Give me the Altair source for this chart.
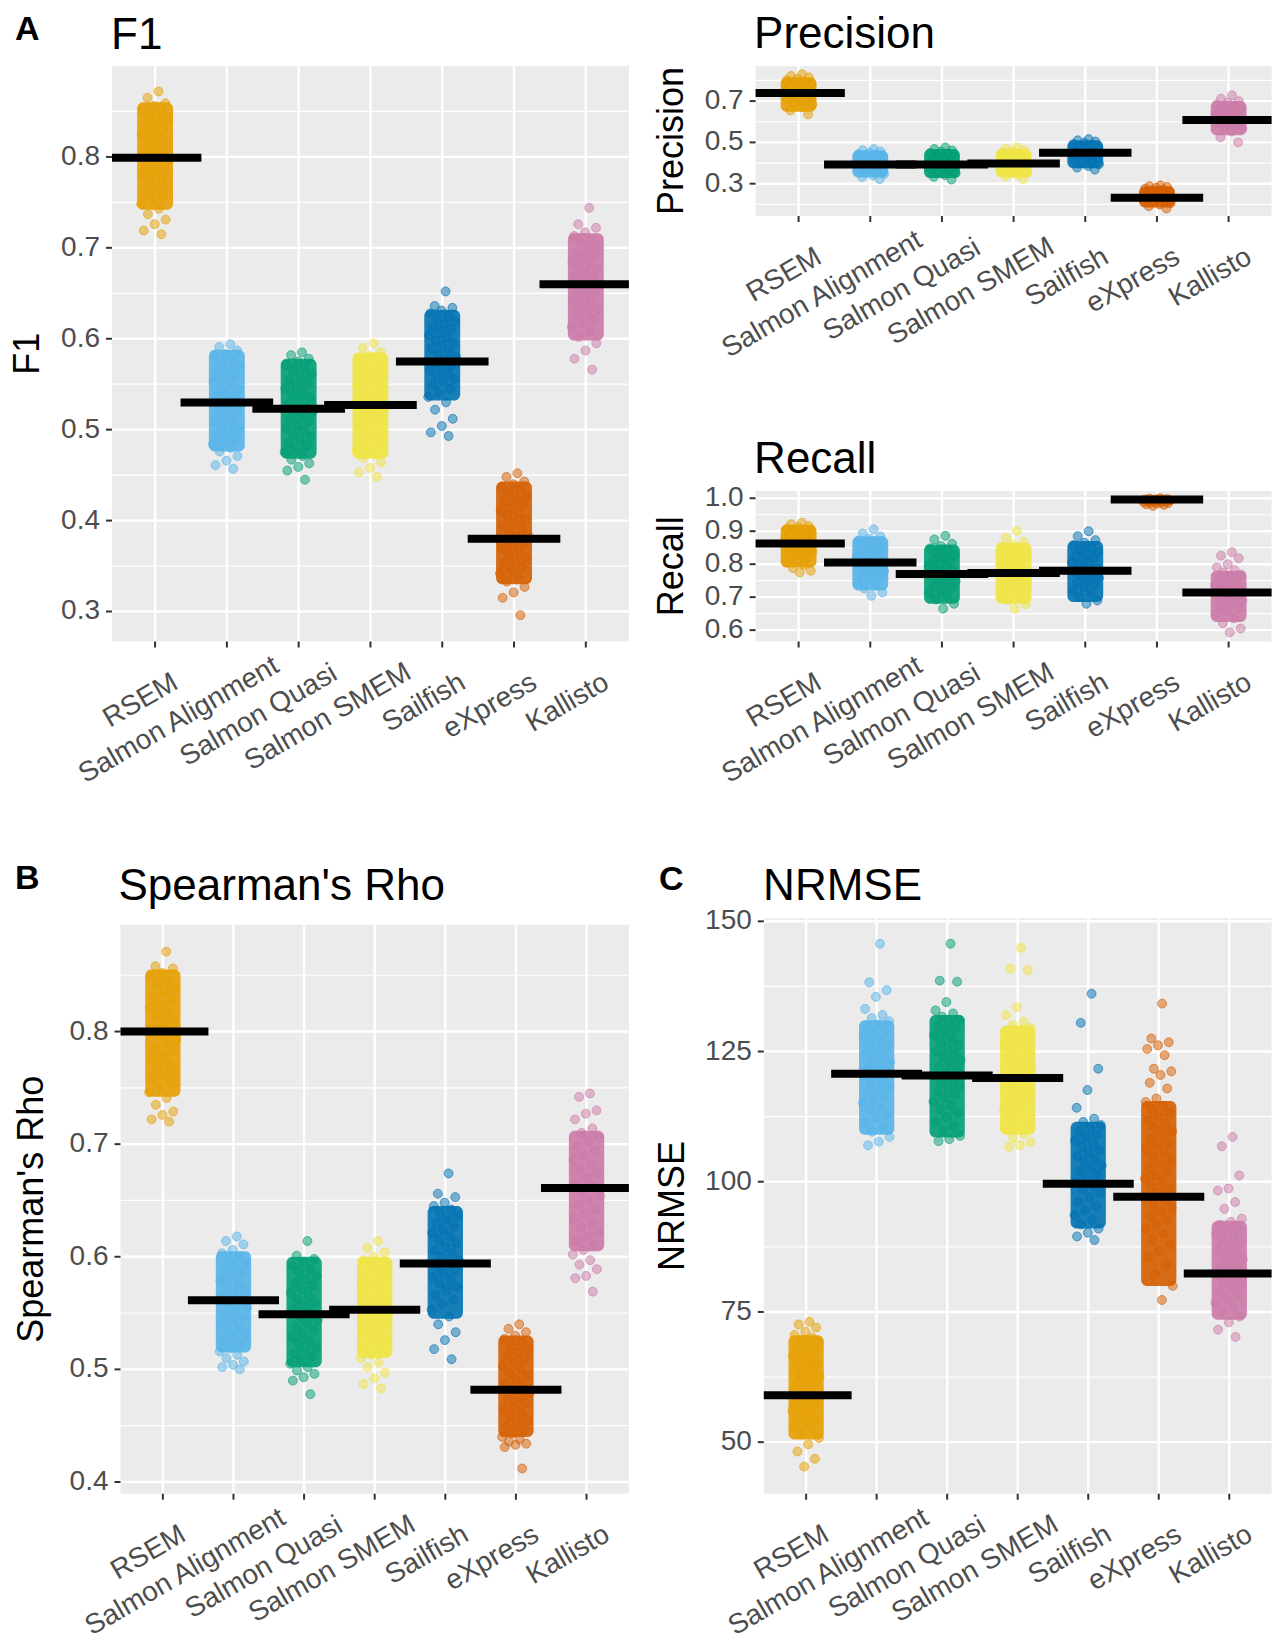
import altair as alt
import pandas as pd

METHODS = ["RSEM", "Salmon Alignment", "Salmon Quasi", "Salmon SMEM", "Sailfish", "eXpress", "Kallisto"]
COLORS = ["#E69F00", "#56B4E9", "#009E73", "#F0E442", "#0072B2", "#D55E00", "#CC79A7"]

# ---------------- F1 ----------------
F1_RSEM = [0.872, 0.865, 0.859, 0.856, 0.852, 0.849, 0.845, 0.842, 0.839, 0.835, 0.831, 0.828, 0.825, 0.821, 0.818, 0.814, 0.811, 0.807, 0.804, 0.801, 0.797, 0.794, 0.790, 0.787, 0.783, 0.780, 0.776, 0.773, 0.769, 0.765, 0.761, 0.757, 0.753, 0.748, 0.743, 0.737, 0.731, 0.726, 0.719, 0.715]
F1_SALN = [0.594, 0.591, 0.587, 0.583, 0.580, 0.577, 0.573, 0.570, 0.566, 0.563, 0.560, 0.556, 0.553, 0.550, 0.546, 0.543, 0.540, 0.537, 0.533, 0.530, 0.527, 0.524, 0.520, 0.517, 0.514, 0.510, 0.507, 0.504, 0.500, 0.497, 0.494, 0.490, 0.487, 0.484, 0.480, 0.476, 0.471, 0.466, 0.461, 0.457]
F1_SQUASI = [0.585, 0.582, 0.578, 0.575, 0.571, 0.568, 0.565, 0.561, 0.558, 0.555, 0.551, 0.548, 0.545, 0.541, 0.538, 0.535, 0.532, 0.528, 0.525, 0.522, 0.519, 0.515, 0.512, 0.509, 0.505, 0.502, 0.499, 0.495, 0.492, 0.489, 0.485, 0.482, 0.478, 0.475, 0.471, 0.467, 0.463, 0.459, 0.455, 0.445]
F1_SSMEM = [0.595, 0.590, 0.585, 0.581, 0.577, 0.574, 0.570, 0.567, 0.563, 0.560, 0.556, 0.553, 0.549, 0.546, 0.543, 0.539, 0.536, 0.533, 0.529, 0.526, 0.523, 0.519, 0.516, 0.512, 0.509, 0.506, 0.502, 0.499, 0.495, 0.492, 0.488, 0.485, 0.481, 0.477, 0.473, 0.469, 0.464, 0.458, 0.453, 0.448]
F1_SAIL = [0.652, 0.636, 0.634, 0.631, 0.628, 0.625, 0.622, 0.619, 0.616, 0.613, 0.610, 0.607, 0.604, 0.601, 0.598, 0.595, 0.592, 0.589, 0.586, 0.583, 0.580, 0.577, 0.574, 0.571, 0.568, 0.565, 0.562, 0.559, 0.556, 0.553, 0.549, 0.545, 0.541, 0.536, 0.530, 0.522, 0.512, 0.504, 0.497, 0.493]
F1_EXPR = [0.452, 0.448, 0.443, 0.440, 0.437, 0.434, 0.431, 0.427, 0.424, 0.421, 0.418, 0.414, 0.411, 0.408, 0.405, 0.401, 0.398, 0.395, 0.392, 0.388, 0.385, 0.382, 0.379, 0.375, 0.372, 0.369, 0.366, 0.362, 0.359, 0.356, 0.353, 0.349, 0.346, 0.342, 0.338, 0.333, 0.327, 0.321, 0.315, 0.296]
F1_KALL = [0.744, 0.726, 0.722, 0.717, 0.713, 0.709, 0.706, 0.702, 0.699, 0.695, 0.692, 0.689, 0.685, 0.682, 0.679, 0.675, 0.672, 0.669, 0.665, 0.662, 0.659, 0.655, 0.652, 0.649, 0.645, 0.642, 0.639, 0.635, 0.632, 0.628, 0.625, 0.621, 0.617, 0.613, 0.608, 0.602, 0.595, 0.587, 0.578, 0.566]
F1_MEANS = [0.799, 0.530, 0.523, 0.527, 0.575, 0.380, 0.660]
F1_CORE_LO = [0.742, 0.476, 0.468, 0.468, 0.532, 0.330, 0.598]
F1_CORE_HI = [0.860, 0.588, 0.578, 0.585, 0.632, 0.443, 0.716]
F1_TICKS = [0.3, 0.4, 0.5, 0.6, 0.7, 0.8]
F1_MINOR = [0.35, 0.45, 0.55, 0.65, 0.75, 0.85]
F1_DOMAIN = [0.267, 0.900]

# ---------------- Precision ----------------
PR_RSEM = [0.830, 0.822, 0.815, 0.808, 0.801, 0.795, 0.788, 0.781, 0.774, 0.767, 0.760, 0.753, 0.746, 0.739, 0.732, 0.725, 0.717, 0.709, 0.701, 0.692, 0.683, 0.672, 0.655, 0.636]
PR_SALN = [0.468, 0.462, 0.456, 0.450, 0.444, 0.438, 0.432, 0.426, 0.420, 0.414, 0.408, 0.402, 0.396, 0.390, 0.384, 0.378, 0.372, 0.366, 0.360, 0.354, 0.347, 0.340, 0.332, 0.322]
PR_SQUASI = [0.475, 0.468, 0.461, 0.455, 0.449, 0.443, 0.437, 0.431, 0.425, 0.419, 0.413, 0.407, 0.401, 0.395, 0.389, 0.383, 0.377, 0.371, 0.364, 0.357, 0.350, 0.342, 0.333, 0.320]
PR_SSMEM = [0.476, 0.469, 0.462, 0.456, 0.450, 0.444, 0.438, 0.432, 0.426, 0.420, 0.414, 0.408, 0.402, 0.396, 0.390, 0.384, 0.378, 0.372, 0.366, 0.359, 0.352, 0.344, 0.335, 0.322]
PR_SAIL = [0.516, 0.510, 0.504, 0.498, 0.492, 0.486, 0.480, 0.474, 0.468, 0.462, 0.456, 0.450, 0.444, 0.438, 0.432, 0.426, 0.420, 0.414, 0.408, 0.401, 0.394, 0.386, 0.378, 0.368]
PR_EXPR = [0.292, 0.288, 0.284, 0.280, 0.276, 0.271, 0.267, 0.263, 0.259, 0.255, 0.251, 0.247, 0.243, 0.239, 0.235, 0.231, 0.227, 0.222, 0.217, 0.212, 0.206, 0.199, 0.191, 0.180]
PR_KALL = [0.728, 0.712, 0.700, 0.692, 0.684, 0.677, 0.670, 0.663, 0.656, 0.649, 0.642, 0.635, 0.628, 0.621, 0.614, 0.607, 0.600, 0.592, 0.584, 0.575, 0.565, 0.553, 0.525, 0.500]
PR_MEANS = [0.739, 0.393, 0.393, 0.398, 0.450, 0.232, 0.608]
PR_CORE_LO = [0.648, 0.330, 0.327, 0.330, 0.375, 0.185, 0.535]
PR_CORE_HI = [0.815, 0.462, 0.468, 0.468, 0.510, 0.288, 0.700]
PR_TICKS = [0.3, 0.5, 0.7]
PR_MINOR = [0.2, 0.4, 0.6, 0.8]
PR_DOMAIN = [0.1435, 0.870]

# ---------------- Recall ----------------
RE_RSEM = [0.926, 0.921, 0.916, 0.912, 0.908, 0.904, 0.900, 0.896, 0.892, 0.888, 0.884, 0.880, 0.876, 0.872, 0.868, 0.864, 0.859, 0.854, 0.849, 0.844, 0.839, 0.833, 0.827, 0.821, 0.814, 0.806, 0.797, 0.788, 0.780, 0.775]
RE_SALN = [0.906, 0.893, 0.884, 0.877, 0.871, 0.865, 0.859, 0.853, 0.848, 0.842, 0.836, 0.831, 0.825, 0.819, 0.814, 0.808, 0.802, 0.797, 0.791, 0.785, 0.779, 0.773, 0.767, 0.760, 0.753, 0.745, 0.736, 0.726, 0.714, 0.704]
RE_SQUASI = [0.886, 0.875, 0.862, 0.855, 0.848, 0.841, 0.834, 0.827, 0.820, 0.814, 0.808, 0.802, 0.796, 0.790, 0.784, 0.778, 0.772, 0.766, 0.760, 0.754, 0.748, 0.742, 0.735, 0.728, 0.720, 0.712, 0.703, 0.693, 0.680, 0.665]
RE_SSMEM = [0.901, 0.880, 0.868, 0.860, 0.853, 0.846, 0.839, 0.832, 0.825, 0.819, 0.813, 0.807, 0.801, 0.795, 0.789, 0.783, 0.777, 0.771, 0.765, 0.759, 0.752, 0.745, 0.738, 0.730, 0.722, 0.713, 0.703, 0.692, 0.679, 0.665]
RE_SAIL = [0.900, 0.885, 0.873, 0.865, 0.858, 0.851, 0.844, 0.837, 0.830, 0.824, 0.818, 0.812, 0.806, 0.800, 0.794, 0.788, 0.782, 0.776, 0.770, 0.764, 0.758, 0.751, 0.744, 0.737, 0.729, 0.720, 0.711, 0.701, 0.690, 0.680]
RE_EXPR = [1.000, 0.999, 0.998, 0.997, 0.996, 0.995, 0.994, 0.993, 0.992, 0.991, 0.990, 0.989, 0.988, 0.987, 0.986, 0.985, 0.984, 0.982, 0.980, 0.977]
RE_KALL = [0.836, 0.826, 0.818, 0.800, 0.790, 0.782, 0.775, 0.768, 0.761, 0.755, 0.749, 0.743, 0.737, 0.731, 0.725, 0.719, 0.713, 0.707, 0.701, 0.695, 0.689, 0.682, 0.675, 0.667, 0.658, 0.648, 0.636, 0.621, 0.605, 0.593]
RE_MEANS = [0.863, 0.805, 0.770, 0.773, 0.780, 0.996, 0.714]
RE_CORE_LO = [0.790, 0.720, 0.680, 0.680, 0.685, 0.982, 0.625]
RE_CORE_HI = [0.920, 0.885, 0.860, 0.865, 0.870, 0.998, 0.780]
RE_TICKS = [0.6, 0.7, 0.8, 0.9, 1.0]
RE_MINOR = [0.65, 0.75, 0.85, 0.95]
RE_DOMAIN = [0.5655, 1.022]

# ---------------- Spearman's Rho ----------------
RH_RSEM = [0.871, 0.858, 0.856, 0.852, 0.849, 0.845, 0.842, 0.838, 0.835, 0.831, 0.828, 0.824, 0.821, 0.817, 0.814, 0.810, 0.807, 0.803, 0.800, 0.797, 0.793, 0.790, 0.786, 0.783, 0.779, 0.776, 0.772, 0.769, 0.765, 0.762, 0.758, 0.754, 0.750, 0.746, 0.741, 0.735, 0.729, 0.726, 0.722, 0.720]
RH_SALN = [0.618, 0.614, 0.611, 0.606, 0.603, 0.600, 0.597, 0.594, 0.591, 0.588, 0.585, 0.582, 0.579, 0.576, 0.573, 0.570, 0.567, 0.564, 0.561, 0.558, 0.555, 0.552, 0.549, 0.546, 0.543, 0.540, 0.537, 0.534, 0.531, 0.528, 0.525, 0.522, 0.519, 0.516, 0.513, 0.510, 0.507, 0.504, 0.502, 0.500]
RH_SQUASI = [0.614, 0.601, 0.598, 0.595, 0.592, 0.589, 0.586, 0.583, 0.580, 0.577, 0.574, 0.571, 0.568, 0.565, 0.562, 0.559, 0.556, 0.553, 0.550, 0.547, 0.544, 0.541, 0.538, 0.535, 0.532, 0.529, 0.526, 0.523, 0.520, 0.517, 0.514, 0.511, 0.508, 0.505, 0.502, 0.499, 0.496, 0.493, 0.490, 0.478]
RH_SSMEM = [0.614, 0.608, 0.604, 0.600, 0.597, 0.594, 0.591, 0.588, 0.585, 0.582, 0.579, 0.576, 0.573, 0.570, 0.567, 0.564, 0.561, 0.558, 0.555, 0.552, 0.549, 0.546, 0.543, 0.540, 0.537, 0.534, 0.531, 0.528, 0.525, 0.522, 0.519, 0.516, 0.513, 0.510, 0.506, 0.502, 0.497, 0.492, 0.487, 0.483]
RH_SAIL = [0.674, 0.656, 0.653, 0.648, 0.645, 0.642, 0.639, 0.636, 0.633, 0.630, 0.627, 0.624, 0.621, 0.618, 0.615, 0.612, 0.609, 0.606, 0.603, 0.600, 0.597, 0.594, 0.591, 0.588, 0.585, 0.582, 0.579, 0.576, 0.573, 0.570, 0.566, 0.562, 0.558, 0.553, 0.547, 0.540, 0.533, 0.526, 0.518, 0.509]
RH_EXPR = [0.540, 0.536, 0.533, 0.530, 0.527, 0.524, 0.521, 0.518, 0.515, 0.512, 0.509, 0.506, 0.503, 0.500, 0.497, 0.494, 0.491, 0.488, 0.485, 0.482, 0.479, 0.476, 0.473, 0.470, 0.467, 0.464, 0.461, 0.458, 0.455, 0.452, 0.449, 0.446, 0.443, 0.440, 0.438, 0.436, 0.434, 0.433, 0.431, 0.412]
RH_KALL = [0.745, 0.742, 0.730, 0.727, 0.722, 0.714, 0.710, 0.706, 0.702, 0.698, 0.694, 0.690, 0.686, 0.682, 0.678, 0.674, 0.670, 0.666, 0.662, 0.658, 0.654, 0.650, 0.646, 0.642, 0.638, 0.634, 0.630, 0.626, 0.622, 0.618, 0.614, 0.610, 0.606, 0.602, 0.597, 0.593, 0.589, 0.583, 0.581, 0.569]
RH_MEANS = [0.800, 0.5615, 0.549, 0.553, 0.594, 0.482, 0.661]
RH_CORE_LO = [0.742, 0.515, 0.502, 0.510, 0.545, 0.440, 0.605]
RH_CORE_HI = [0.855, 0.605, 0.600, 0.600, 0.645, 0.530, 0.712]
RH_TICKS = [0.4, 0.5, 0.6, 0.7, 0.8]
RH_MINOR = [0.45, 0.55, 0.65, 0.75, 0.85]
RH_DOMAIN = [0.3896, 0.8948]

# ---------------- NRMSE ----------------
NR_RSEM = [73.1, 72.6, 72.0, 71.2, 70.6, 70.1, 69.6, 69.1, 68.6, 68.1, 67.6, 67.1, 66.6, 66.1, 65.6, 65.1, 64.6, 64.1, 63.6, 63.1, 62.6, 62.1, 61.6, 61.1, 60.6, 60.1, 59.6, 59.1, 58.6, 58.1, 57.6, 57.1, 56.6, 56.1, 55.6, 55.1, 54.5, 53.9, 53.2, 52.5, 51.7, 50.8, 49.6, 48.2, 46.8, 45.3]
NR_SALN = [145.7, 138.3, 136.8, 135.5, 133.2, 132.0, 131.4, 130.8, 130.2, 129.6, 129.0, 128.4, 127.8, 127.2, 126.6, 126.0, 125.4, 124.8, 124.2, 123.6, 123.0, 122.4, 121.8, 121.2, 120.6, 120.0, 119.4, 118.8, 118.2, 117.6, 117.0, 116.4, 115.8, 115.1, 114.4, 113.7, 113.0, 112.2, 111.4, 110.5, 109.6, 108.6, 107.7, 107.0]
NR_SQUASI = [145.7, 138.6, 138.4, 134.5, 132.9, 132.3, 131.7, 131.1, 130.5, 129.9, 129.3, 128.7, 128.1, 127.5, 126.9, 126.3, 125.7, 125.1, 124.5, 123.9, 123.3, 122.7, 122.1, 121.5, 120.9, 120.3, 119.7, 119.1, 118.5, 117.9, 117.3, 116.7, 116.1, 115.4, 114.7, 114.0, 113.2, 112.4, 111.5, 110.6, 109.7, 108.8, 108.2, 107.8]
NR_SSMEM = [144.9, 140.9, 140.6, 133.5, 132.0, 130.7, 130.1, 129.5, 128.9, 128.3, 127.7, 127.1, 126.5, 125.9, 125.3, 124.7, 124.1, 123.5, 122.9, 122.3, 121.7, 121.1, 120.5, 119.9, 119.3, 118.7, 118.1, 117.5, 116.9, 116.3, 115.7, 115.1, 114.5, 113.8, 113.1, 112.4, 111.6, 110.8, 110.0, 109.2, 108.4, 107.6, 107.0, 106.7]
NR_SAIL = [136.1, 130.5, 121.7, 117.6, 114.2, 112.1, 111.5, 110.9, 110.3, 109.7, 109.1, 108.5, 107.9, 107.3, 106.7, 106.1, 105.5, 104.9, 104.3, 103.7, 103.1, 102.5, 101.9, 101.3, 100.6, 99.9, 99.2, 98.5, 97.8, 97.0, 96.2, 95.4, 94.5, 93.6, 92.7, 91.8, 91.0, 90.2, 89.5, 88.8]
NR_EXPR = [134.2, 127.5, 126.8, 126.2, 125.5, 124.3, 121.7, 121.2, 120.5, 119.0, 117.9, 116.0, 115.3, 114.6, 113.9, 113.2, 112.5, 111.8, 111.1, 110.4, 109.7, 109.0, 108.3, 107.6, 106.9, 106.2, 105.5, 104.8, 104.1, 103.4, 102.7, 102.0, 101.3, 100.6, 99.9, 99.2, 98.5, 97.8, 97.1, 96.4, 95.7, 95.0, 94.2, 93.4, 92.6, 91.8, 90.9, 90.0, 89.0, 88.0, 86.8, 85.5, 84.0, 82.2, 80.0, 77.3]
NR_KALL = [108.6, 106.8, 101.2, 98.7, 98.3, 96.1, 94.8, 92.9, 92.3, 91.7, 91.1, 90.5, 89.9, 89.3, 88.7, 88.1, 87.5, 86.9, 86.3, 85.7, 85.1, 84.5, 83.9, 83.3, 82.7, 82.1, 81.5, 80.9, 80.3, 79.7, 79.0, 78.3, 77.6, 76.8, 76.0, 75.1, 74.1, 73.0, 71.6, 70.2]
NR_MEANS = [59.0, 120.75, 120.4, 119.9, 99.6, 97.1, 82.4]
NR_CORE_LO = [50.5, 109.0, 108.5, 109.0, 91.0, 80.0, 73.5]
NR_CORE_HI = [70.5, 131.0, 132.0, 130.0, 111.5, 115.5, 92.5]
NR_TICKS = [50, 75, 100, 125, 150]
NR_MINOR = [62.5, 87.5, 112.5, 137.5]
NR_DOMAIN = [40.1, 150.6]

FONT = "Liberation Sans"
BG = "#EBEBEB"
TICK_COLOR = "#333333"
LABEL_COLOR = "#4D4D4D"
CSCALE = alt.Scale(domain=METHODS, range=COLORS)
ONE = pd.DataFrame({"k": [0]})


def label(t, x, y, size, weight="normal", angle=0, align="left", baseline="alphabetic"):
    return alt.Chart(pd.DataFrame({"t": [t]})).mark_text(
        align=align, baseline=baseline, font=FONT, fontSize=size, fontWeight=weight,
        angle=angle, color="black").encode(text="t:N", x=alt.value(x), y=alt.value(y))


def region(lists, means, core_lo, core_hi, dom, ticks, minor, fmt, x0, x1, y0, y1, ytitle, title_dx):
    step = (x1 - x0) / 7.2
    xs = alt.Scale(domain=[-0.6, 6.6], range=[x0, x1], nice=False, zero=False)
    ys = alt.Scale(domain=dom, range=[y1, y0], nice=False, zero=False)
    pts = pd.DataFrame([
        {"method": m, "idx": i, "value": v}
        for i, (m, vals) in enumerate(zip(METHODS, lists)) for v in vals
    ])
    mdf = pd.DataFrame({"method": METHODS, "idx": list(range(len(METHODS))), "mean": means,
                        "clo": core_lo, "chi": core_hi})
    tdf = pd.DataFrame({"v": ticks})

    bg = alt.Chart(ONE).mark_rect(color=BG).encode(
        x=alt.value(x0), x2=alt.value(x1), y=alt.value(y0), y2=alt.value(y1))
    minor_l = alt.Chart(pd.DataFrame({"v": minor})).mark_rule(color="white", strokeWidth=1.2).encode(
        y=alt.Y("v:Q", scale=ys, axis=None), x=alt.value(x0), x2=alt.value(x1))
    major_l = alt.Chart(tdf).mark_rule(color="white", strokeWidth=2.4).encode(
        y=alt.Y("v:Q", scale=ys, axis=None), x=alt.value(x0), x2=alt.value(x1))
    vert_l = alt.Chart(mdf).mark_rule(color="white", strokeWidth=2.4).encode(
        x=alt.X("idx:Q", scale=xs, axis=None), y=alt.value(y0), y2=alt.value(y1))
    core_l = alt.Chart(mdf).transform_calculate(
        a="datum.idx - 0.25", b="datum.idx + 0.25"
    ).mark_rect(cornerRadius=6, opacity=0.9).encode(
        x=alt.X("a:Q", scale=xs, axis=None), x2="b:Q",
        y=alt.Y("clo:Q", scale=ys, axis=None), y2="chi:Q",
        fill=alt.Fill("method:N", scale=CSCALE, legend=None))
    pts_l = alt.Chart(pts).transform_window(
        rn="row_number()", groupby=["method"]
    ).transform_calculate(
        jx="datum.idx + ((datum.rn * 0.618034) % 1 - 0.5) * 0.40"
    ).mark_point(filled=True, size=80, opacity=1, fillOpacity=0.5, strokeOpacity=0.6,
                 strokeWidth=1).encode(
        x=alt.X("jx:Q", scale=xs, axis=None),
        y=alt.Y("value:Q", scale=ys, axis=None),
        fill=alt.Fill("method:N", scale=CSCALE, legend=None),
        stroke=alt.Stroke("method:N", scale=CSCALE, legend=None),
    )
    mean_l = alt.Chart(mdf).transform_calculate(
        lo="max(datum.idx - 0.645, -0.6)", hi="min(datum.idx + 0.645, 6.6)"
    ).mark_rule(color="black", strokeWidth=8, strokeCap="butt").encode(
        x=alt.X("lo:Q", scale=xs, axis=None), x2="hi:Q",
        y=alt.Y("mean:Q", scale=ys, axis=None))
    ytick_l = alt.Chart(tdf).mark_rule(color=TICK_COLOR, strokeWidth=2).encode(
        y=alt.Y("v:Q", scale=ys, axis=None), x=alt.value(x0 - 6), x2=alt.value(x0))
    ylab_l = alt.Chart(tdf).mark_text(
        align="right", baseline="middle", font=FONT, fontSize=28, color=LABEL_COLOR).encode(
        y=alt.Y("v:Q", scale=ys, axis=None), x=alt.value(x0 - 12),
        text=alt.Text("v:Q", format=fmt))
    xtick_l = alt.Chart(mdf).mark_rule(color=TICK_COLOR, strokeWidth=2).encode(
        x=alt.X("idx:Q", scale=xs, axis=None), y=alt.value(y1), y2=alt.value(y1 + 6))
    # rotated category labels; long labels hang a little past their tick (as in the original)
    xlab_l = alt.Chart(mdf).transform_calculate(
        tw="13 * length(datum.method) + 7 * length(replace(datum.method, regexp('[^A-Z]', 'g'), ''))"
    ).transform_calculate(
        sh="max(0, 0.3 * (datum.tw - 110))"
    ).transform_calculate(
        lx="datum.idx + datum.sh * 0.866 / %f" % step,
        ly="%f - datum.sh * 0.5" % y1,
    ).mark_text(
        align="right", baseline="top", angle=330, dx=-1.6, dy=30.2, font=FONT, fontSize=28,
        color=LABEL_COLOR).encode(
        x=alt.X("lx:Q", scale=xs, axis=None),
        y=alt.Y("ly:Q", scale=None, axis=None),
        text="method:N")
    ytitle_l = label(ytitle, x0 + title_dx, (y0 + y1) / 2, 36, angle=270, align="center",
                     baseline="middle")
    return alt.layer(bg, minor_l, major_l, vert_l, core_l, pts_l, mean_l,
                     ytick_l, ylab_l, xtick_l, xlab_l, ytitle_l)


W1, W2, H = 516.9, 516.0, 575.5

anchor = alt.Chart(ONE).mark_rule(color="white", strokeWidth=1).encode(
    x=alt.value(-111), x2=alt.value(-110), y=alt.value(-64.5), y2=alt.value(-64.5))

f1 = alt.layer(
    anchor,
    region([F1_RSEM, F1_SALN, F1_SQUASI, F1_SSMEM, F1_SAIL, F1_EXPR, F1_KALL], F1_MEANS,
           F1_CORE_LO, F1_CORE_HI, F1_DOMAIN, F1_TICKS, F1_MINOR, ".1f", 0, W1, 0, H, "F1", -84),
    label("F1", -1, -17.5, 44),
    label("A", -97, -26.5, 34, "bold"),
).properties(width=W1, height=H)

pr = alt.layer(
    region([PR_RSEM, PR_SALN, PR_SQUASI, PR_SSMEM, PR_SAIL, PR_EXPR, PR_KALL], PR_MEANS,
           PR_CORE_LO, PR_CORE_HI, PR_DOMAIN, PR_TICKS, PR_MINOR, ".1f", 0, W2, 0, 150,
           "Precision", -84),
    region([RE_RSEM, RE_SALN, RE_SQUASI, RE_SSMEM, RE_SAIL, RE_EXPR, RE_KALL], RE_MEANS,
           RE_CORE_LO, RE_CORE_HI, RE_DOMAIN, RE_TICKS, RE_MINOR, ".1f", 0, W2, 425, H,
           "Recall", -84),
    label("Precision", -1.5, -18.3, 44),
    label("Recall", -1.5, 425 - 18.3, 44),
).resolve_scale(x="independent", y="independent").properties(width=W2, height=H)

rho = alt.layer(
    region([RH_RSEM, RH_SALN, RH_SQUASI, RH_SSMEM, RH_SAIL, RH_EXPR, RH_KALL], RH_MEANS,
           RH_CORE_LO, RH_CORE_HI, RH_DOMAIN, RH_TICKS, RH_MINOR, ".1f", 8.5, W1, 6.6, H,
           "Spearman's Rho", -89),
    label("Spearman's Rho", 6.5, -18.4, 44),
    label("B", -97, -29, 34, "bold"),
).properties(width=W1, height=H)

nr = alt.layer(
    region([NR_RSEM, NR_SALN, NR_SQUASI, NR_SSMEM, NR_SAIL, NR_EXPR, NR_KALL], NR_MEANS,
           NR_CORE_LO, NR_CORE_HI, NR_DOMAIN, NR_TICKS, NR_MINOR, "d", 8.2, W2, 0, H,
           "NRMSE", -91),
    label("NRMSE", 7.5, -18.4, 44),
    label("C", -96.5, -28.5, 34, "bold"),
).properties(width=W2, height=H)

chart = alt.concat(
    f1, pr, rho, nr, columns=2, spacing={"row": 276.2, "column": 126.6}, bounds="flush"
).properties(padding=0, background="white").configure_view(stroke="transparent")

chart.save("out.html", embed_options={"renderer": "svg", "actions": False})
